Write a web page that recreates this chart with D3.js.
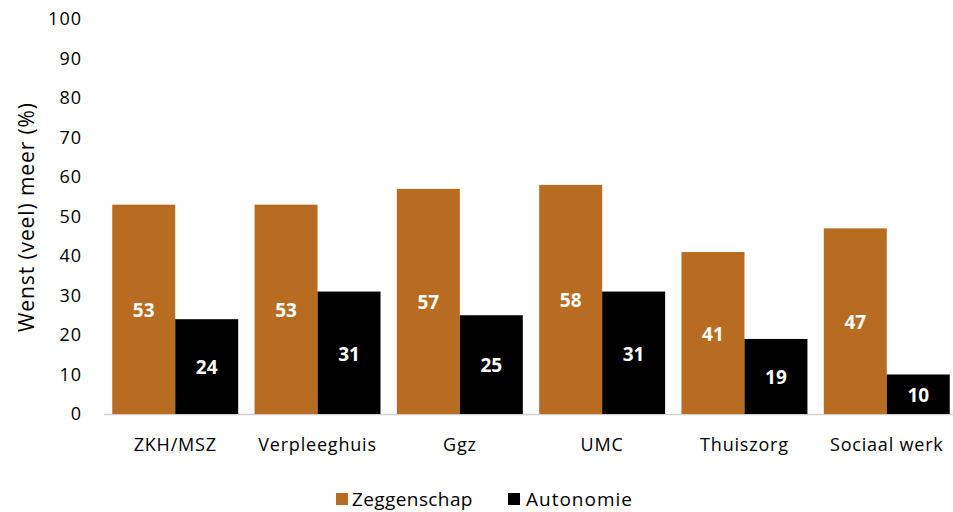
<!DOCTYPE html>
<html><head><meta charset="utf-8">
<script src="https://cdn.jsdelivr.net/npm/d3@7"></script>
<style>body{margin:0;background:#fff}svg{display:block}text{font-family:"Open Sans",sans-serif}</style>
</head><body>
<svg id="c" width="953" height="512"></svg>
<script>
const categories = ["ZKH/MSZ","Verpleeghuis","Ggz","UMC","Thuiszorg","Sociaal werk"];
const seriesNames = ["Zeggenschap","Autonomie"];
const zeggenschap = [53,53,57,58,41,47];
const autonomie = [24,31,25,31,19,10];
const yTicks = [0,10,20,30,40,50,60,70,80,90,100];
const colors = ["#B86C21","#000000"];

const svg = d3.select("#c");
const x0 = d3.scaleBand().domain(categories).range([104,958]).paddingInner(0.115).paddingOuter(0.058);
const x1 = d3.scaleBand().domain(seriesNames).range([0,x0.bandwidth()]);
const y = d3.scaleLinear().domain([0,100]).range([414,19]);

// y axis labels
const ya = svg.append("g").attr("transform","translate(82,0)")
  .call(d3.axisLeft(y).tickValues(yTicks).tickSize(0).tickPadding(0));
ya.select(".domain").remove();
ya.selectAll("text").attr("font-size",18).attr("fill","#000")
  .style("font-family","'Open Sans'").style("letter-spacing","1px");

// baseline
svg.append("line").attr("x1",104).attr("x2",958).attr("y1",y(0)+0.5).attr("y2",y(0)+0.5)
  .attr("stroke","#d0d0d0").attr("stroke-width",1.5);

const data = categories.map((c,i)=>({c, vals:[zeggenschap[i],autonomie[i]]}));
const g = svg.append("g").selectAll("g").data(data).join("g")
  .attr("transform",d=>`translate(${x0(d.c)},0)`);
g.selectAll("rect").data(d=>d.vals.map((v,j)=>({k:seriesNames[j],v,j}))).join("rect")
  .attr("x",d=>x1(d.k)).attr("width",x1.bandwidth())
  .attr("y",d=>y(d.v)).attr("height",d=>y(0)-y(d.v))
  .attr("fill",d=>colors[d.j]);
g.selectAll("text.v").data(d=>d.vals.map((v,j)=>({k:seriesNames[j],v,j}))).join("text")
  .attr("class","v")
  .attr("x",d=>x1(d.k)+x1.bandwidth()/2)
  .attr("y",d=>(y(d.v)+y(0))/2+1)
  .attr("dy","0.36em").attr("text-anchor","middle")
  .attr("font-size",19).attr("font-weight","bold").attr("fill","#fff")
  .text(d=>d.v);

// x axis labels
const xa = svg.append("g").attr("transform",`translate(0,${y(0)})`)
  .call(d3.axisBottom(x0).tickSize(0).tickPadding(24));
xa.select(".domain").remove();
xa.selectAll("text").attr("font-size",18).attr("fill","#000")
  .style("font-family","'Open Sans'").style("letter-spacing","0.8px");

// y title
svg.append("text").attr("transform","translate(34,217) rotate(-90)")
  .attr("text-anchor","middle").attr("font-size",21).attr("fill","#000")
  .style("letter-spacing","0.9px")
  .text("Wenst (veel) meer (%)");

// legend
const legX = [336,508];
const leg = svg.append("g").selectAll("g").data(seriesNames).join("g")
  .attr("transform",(d,i)=>`translate(${legX[i]},493)`);
leg.append("rect").attr("width",12).attr("height",12).attr("fill",(d,i)=>colors[i]);
leg.append("text").attr("x",(d,i)=>i?18:16).attr("y",6).attr("dy","0.36em").attr("font-size",19).attr("fill","#000")
  .style("letter-spacing",(d,i)=>i?"1px":"0.4px").text(d=>d);
</script>
</body></html>
